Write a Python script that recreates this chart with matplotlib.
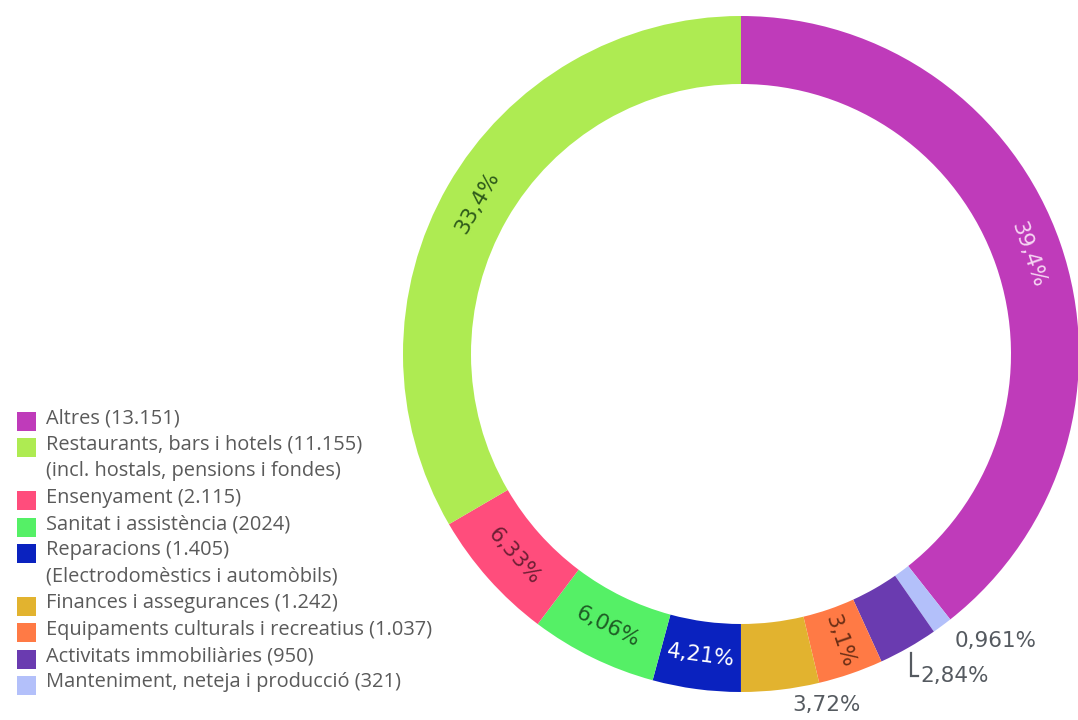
import numpy as np
import matplotlib
matplotlib.use("Agg")
import matplotlib.pyplot as plt
from matplotlib.patches import Rectangle

# ---------------- data ----------------
categories = ["Altres", "Restaurants, bars i hotels", "Ensenyament",
              "Sanitat i assistència", "Reparacions", "Finances i assegurances",
              "Equipaments culturals i recreatius", "Activitats immobiliàries",
              "Manteniment, neteja i producció"]
values = [13151, 11155, 2115, 2024, 1405, 1242, 1037, 950, 321]
legend_labels = ["Altres (13.151)",
                 "Restaurants, bars i hotels (11.155)\n(incl. hostals, pensions i fondes)",
                 "Ensenyament (2.115)",
                 "Sanitat i assistència (2024)",
                 "Reparacions (1.405)\n(Electrodomèstics i automòbils)",
                 "Finances i assegurances (1.242)",
                 "Equipaments culturals i recreatius (1.037)",
                 "Activitats immobiliàries (950)",
                 "Manteniment, neteja i producció (321)"]
pct_labels = ["39,4%", "33,4%", "6,33%", "6,06%", "4,21%", "3,72%", "3,1%", "2,84%", "0,961%"]

colors = ["#BF3BBA", "#AEEB52", "#FF4D7C", "#55F066", "#0A22BF",
          "#E2B32F", "#FF7A45", "#6A3BB0", "#B3C0FA"]
label_colors = ["#F6D6F3", "#2E5A1A", "#6E1F35", "#1E5C25", "#FFFFFF",
                "#555A60", "#6B2E15", "#555A60", "#555A60"]

# ---------------- layout ----------------
W, H = 1078, 720
fig = plt.figure(figsize=(W / 100, H / 100), dpi=100)
ax = fig.add_axes([0, 0, 1, 1])

cx, cy = 741, H - 354
R, ring_w = 338, 68

pie_order = [0, 8, 7, 6, 5, 4, 3, 2, 1]
wedges, _ = ax.pie([values[i] for i in pie_order],
                   colors=[colors[i] for i in pie_order],
                   startangle=90, counterclock=False,
                   center=(cx, cy), radius=R,
                   wedgeprops=dict(width=ring_w, linewidth=0))
ax.set_xlim(0, W)
ax.set_ylim(0, H)
ax.set_aspect("auto")
ax.axis("off")

inside_tangent = {0, 1, 2, 3, 4}
inside_radial = {6}
leader = {7}
lab_font = "DejaVu Sans"
lab_size = 15.5

for w, idx in zip(wedges, pie_order):
    mid = (w.theta1 + w.theta2) / 2.0
    a = np.deg2rad(mid)
    txt = pct_labels[idx]
    col = label_colors[idx]
    if idx in inside_tangent or idx in inside_radial:
        r = R - ring_w / 2
        x, y = cx + r * np.cos(a), cy + r * np.sin(a)
        if idx in inside_tangent:
            rot = (mid - 90) % 360
            if rot > 180:
                rot -= 360
            if rot > 90:
                rot -= 180
            elif rot < -90:
                rot += 180
        else:
            rot = ((mid + 180) % 360) - 180
            if rot > 90:
                rot -= 180
            elif rot < -90:
                rot += 180
        ax.text(x, y, txt, rotation=rot, rotation_mode="anchor",
                ha="center", va="center", color=col,
                fontsize=lab_size, family=lab_font)
    elif idx in leader:
        ex, ey = cx + (R + 6) * np.cos(a), cy + (R + 6) * np.sin(a)
        ly = ey - 23
        ax.plot([ex, ex, ex + 7], [ey, ly, ly], color="#555A60", lw=1.6,
                solid_joinstyle="miter")
        ax.text(ex + 9, ly, txt, ha="left", va="center", color=col,
                fontsize=lab_size, family=lab_font)
    else:
        ex, ey = cx + R * np.cos(a), cy + R * np.sin(a)
        ax.text(ex + 12, ey - 15, txt, ha="left", va="center", color=col,
                fontsize=lab_size, family=lab_font)

# ---------------- legend (manual) ----------------
leg_x_box, leg_x_txt = 17, 46
line_h = 26.4
y0 = H - 421.5
box = 19
line_no = 0
for i, lbl in enumerate(legend_labels):
    yc = y0 - line_no * line_h
    ax.add_patch(Rectangle((leg_x_box, yc - box / 2), box, box,
                           facecolor=colors[i], edgecolor="none"))
    for k, part in enumerate(lbl.split("\n")):
        ax.text(leg_x_txt, yc - k * line_h + 3, part, ha="left", va="center",
                color="#5A5A5A", fontsize=14.4, family="Open Sans")
    line_no += len(lbl.split("\n"))

fig.savefig("out.png", dpi=100)
